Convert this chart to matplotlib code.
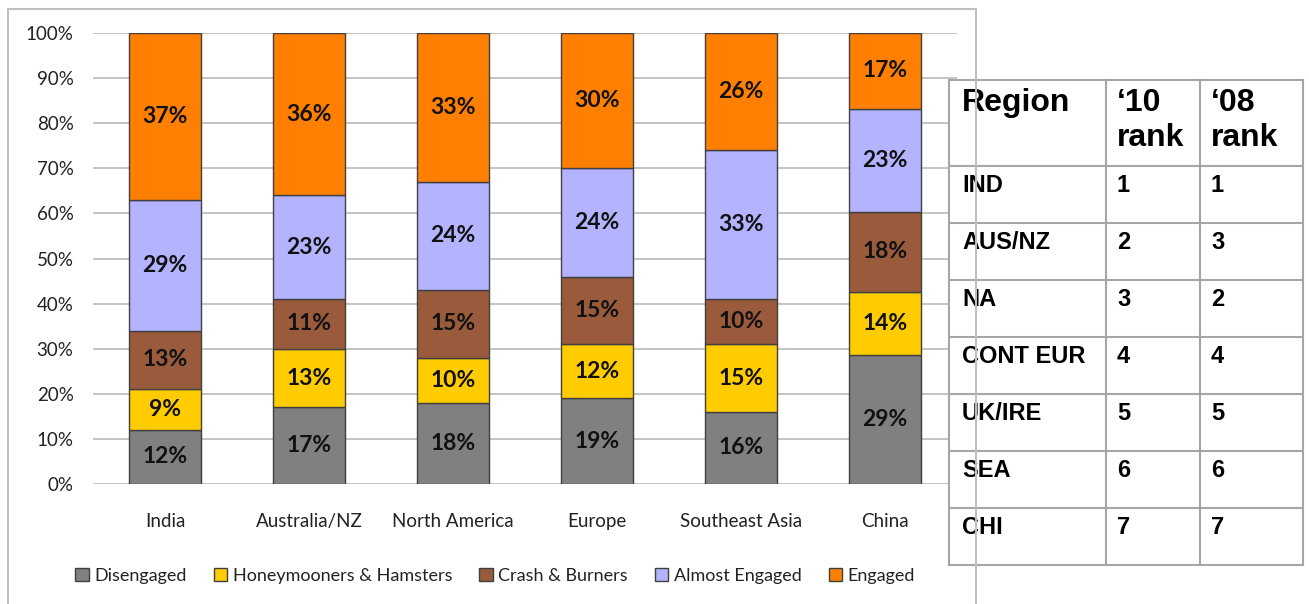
"""
Engagement segments by region, with the ranking table on the right
"""

import numpy as np
import matplotlib
matplotlib.use('Agg')
import matplotlib.pyplot as plt
from matplotlib.patches import Rectangle

# Data
regiones = ['India', 'Australia/NZ', 'North America', 'Europe', 'Southeast Asia', 'China']
segmentos = ['Disengaged', 'Honeymooners & Hamsters', 'Crash & Burners', 'Almost Engaged', 'Engaged']
disengaged = [12, 17, 18, 19, 16, 29]
honeymooners = [9, 13, 10, 12, 15, 14]
crash_burners = [13, 11, 15, 15, 10, 18]
almost_engaged = [29, 23, 24, 24, 33, 23]
engaged = [37, 36, 33, 30, 26, 17]
colores = ['#808080', '#FFCC00', '#9A5B3D', '#B3B3FF', '#FF8000']

tabla_region = ['IND', 'AUS/NZ', 'NA', 'CONT EUR', 'UK/IRE', 'SEA', 'CHI']
rank_2010 = ['1', '2', '3', '4', '5', '6', '7']
rank_2008 = ['1', '3', '2', '4', '5', '6', '7']

W, H = 1309, 604
fig = plt.figure(figsize=(W / 100, H / 100), dpi=100)
plt.rcParams['font.family'] = ['Lato', 'DejaVu Sans']

# Marco del grafico
fig.patches.append(Rectangle((8 / W, -0.05), 968 / W, 1.05 - 9 / H, transform=fig.transFigure,
                             fill=False, edgecolor='#BFBFBF', linewidth=1.5, zorder=0))

ax = fig.add_axes([93 / W, 1 - 484 / H, 864 / W, 451 / H])
series = np.array([disengaged, honeymooners, crash_burners, almost_engaged, engaged], dtype=float)
totales = series.sum(axis=0)
x = np.arange(len(regiones))
base = np.zeros(len(regiones))
for nombre, valores, color in zip(segmentos, series, colores):
    alto = valores / totales * 100
    barras = ax.bar(x, alto, 0.5, bottom=base, color=color, edgecolor='#404040',
                    linewidth=1, label=nombre, zorder=3)
    ax.bar_label(barras, labels=[f'{int(v)}%' for v in valores], label_type='center',
                 fontsize=16.5, fontweight='bold', color='#111111')
    base += alto

ax.set_xlim(-0.5, len(regiones) - 0.5)
ax.set_ylim(0, 100)
ax.set_yticks(np.arange(0, 101, 10))
ax.set_yticklabels([f'{v}%' for v in range(0, 101, 10)])
ax.set_xticks(x)
ax.set_xticklabels(regiones)
ax.tick_params(axis='y', length=0, pad=14, labelsize=13.5, labelcolor='#222222')
ax.tick_params(axis='x', length=0, pad=21, labelsize=13.5, labelcolor='#222222')
ax.grid(axis='y', color='#BFBFBF', linewidth=1.3, zorder=0)
for lado in ax.spines.values():
    lado.set_visible(False)

fig.legend(*ax.get_legend_handles_labels(), loc='center', bbox_to_anchor=(495 / W, 1 - 576 / H),
           ncol=5, frameon=False, fontsize=13, handlelength=0.75, handleheight=0.75,
           handletextpad=0.3, columnspacing=1.5, labelcolor='#222222')

# Tabla de ranking
tx = fig.add_axes([949 / W, 1 - 565 / H, 354 / W, 485 / H])
tx.set_xlim(949, 1303)
tx.set_ylim(565, 80)
tx.axis('off')
tx.add_patch(Rectangle((949, 80), 354, 485, facecolor='white', edgecolor='none'))
cols = [949, 1106, 1200, 1303]
filas = [80, 166] + [166 + 57 * (i + 1) for i in range(len(tabla_region))]
for cx in cols:
    tx.plot([cx, cx], [filas[0], filas[-1]], color='#A6A6A6', linewidth=1.5, clip_on=False)
for fy in filas:
    tx.plot([cols[0], cols[-1]], [fy, fy], color='#A6A6A6', linewidth=1.5, clip_on=False)

fuente = dict(family=['Liberation Sans', 'DejaVu Sans'], fontweight='bold', color='black')
tx.text(cols[0] + 13, filas[0] + 8, 'Region', fontsize=23, va='top', **fuente)
tx.text(cols[1] + 11, filas[0] + 8, '\u201810\nrank', fontsize=23, va='top', linespacing=1.2, **fuente)
tx.text(cols[2] + 11, filas[0] + 8, '\u201808\nrank', fontsize=23, va='top', linespacing=1.2, **fuente)
for i, (r, a, b) in enumerate(zip(tabla_region, rank_2010, rank_2008)):
    y0 = filas[i + 1] + 8
    tx.text(cols[0] + 13, y0, r, fontsize=17, va='top', **fuente)
    tx.text(cols[1] + 11, y0, a, fontsize=17, va='top', **fuente)
    tx.text(cols[2] + 11, y0, b, fontsize=17, va='top', **fuente)

fig.savefig('out.png', dpi=100)
plt.close(fig)
